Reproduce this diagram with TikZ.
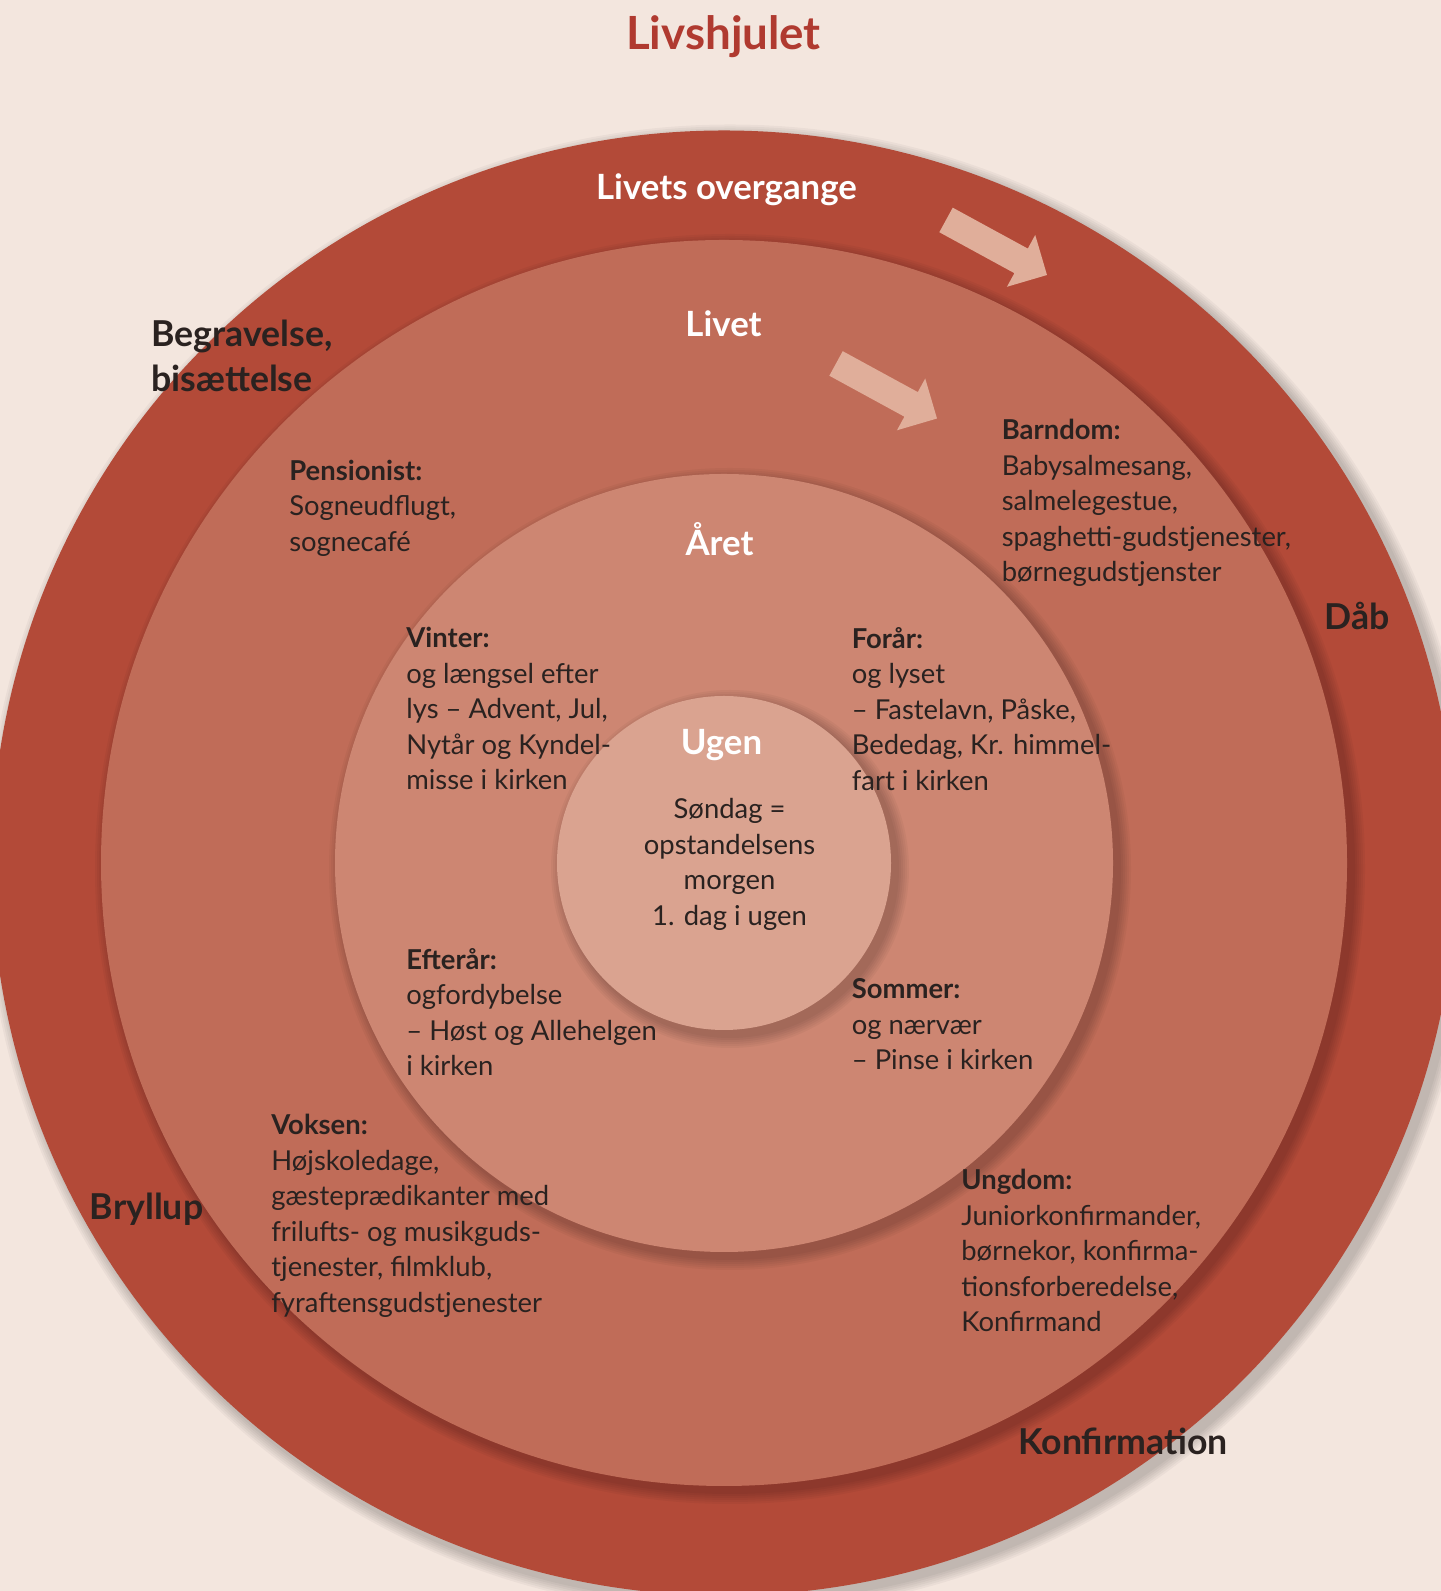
\documentclass[tikz,border=0pt]{standalone}
\usepackage{fontspec}
\setmainfont{Lato}

\definecolor{paper}{HTML}{F3E6DE}
\definecolor{outerred}{HTML}{B34A38}
\definecolor{liferose}{HTML}{C06C58}
\definecolor{yearrose}{HTML}{CD8672}
\definecolor{weekrose}{HTML}{DAA390}
\definecolor{titlered}{HTML}{B03A30}
\definecolor{arrowpink}{HTML}{E0AE9A}
\definecolor{ink}{HTML}{2A2220}

\tikzset{
  body/.style={font=\fontsize{15.6}{20.2}\selectfont, text=ink, align=left, anchor=north west, inner sep=0pt},
  event/.style={font=\fontsize{20.3}{25.4}\selectfont\bfseries, text=ink, align=left, inner sep=0pt},
  ringtitle/.style={font=\fontsize{19.8}{22}\selectfont\bfseries, text=white, inner sep=0pt},
  turnarrow/.style={fill=arrowpink}
}

\begin{document}
\begin{tikzpicture}
\fill[paper] (0,0) rectangle (28.82,31.82);
\useasboundingbox (0,0) rectangle (28.82,31.82);
\clip (0,0) rectangle (28.82,31.82);

\coordinate (hub) at (14.48,14.56);

% rings with soft shadow
\foreach \r/\c in {14.65/outerred, 12.46/liferose, 7.78/yearrose, 3.34/weekrose} {
  \foreach \k in {1,...,6}
    \fill[black, opacity=0.035] ([shift={(0.12,-0.12)}]hub) circle ({\r+0.04*\k});
  \fill[\c] (hub) circle (\r);
}

% arrows
\foreach \p in {(19.93,26.87),(17.73,24.00)}
  \fill[turnarrow, shift={\p}, rotate=-28.6] (-1.15,-0.28) -- (0.56,-0.28) -- (0.56,-0.59) -- (1.15,0) -- (0.56,0.59) -- (0.56,0.28) -- (-1.15,0.28) -- cycle;

\node (title) at (14.47,31.09) [font=\fontsize{26}{0}\selectfont\bfseries, text=titlered] {Livshjulet};

\node[ringtitle] (overgange) at (14.53,28.02) {Livets overgange};
\node[ringtitle] (livet) at (14.47,25.35) {Livet};
\node[ringtitle] (aaret) at (14.39,21.04) {Året};
\node[ringtitle] (ugen) at (14.43,16.92) {Ugen};

\node[body, anchor=center, align=center] (sondag) at (14.59,14.53) {Søndag =\\opstandelsens\\morgen\\1. dag i ugen};

\node[event, anchor=north west] (begravelse) at (3.02,25.42) {Begravelse,\\bisættelse};
\node[event, anchor=west] (daab) at (26.49,19.50) {Dåb};
\node[event, anchor=west] (bryllup) at (1.79,7.63) {Bryllup};
\node[event, anchor=west] (konfirmation) at (20.36,3.00) {Konfirmation};

\node[body] (pensionist) at (5.78,22.63) {\textbf{Pensionist:}\\Sogneudflugt,\\sognecafé};
\node[body] (barndom) at (20.03,23.44) {\textbf{Barndom:}\\Babysalmesang,\\salmelegestue,\\spaghetti-gudstjenester,\\børnegudstjenster};
\node[body] (vinter) at (8.12,19.28) {\textbf{Vinter:}\\og længsel efter\\lys – Advent, Jul,\\Nytår og Kyndel-\\misse i kirken};
\node[body] (foraar) at (17.03,19.28) {\textbf{Forår:}\\og lyset\\– Fastelavn, Påske,\\Bededag, Kr. himmel-\\fart i kirken};
\node[body] (efteraar) at (8.12,12.86) {\textbf{Efterår:}\\ogfordybelse\\– Høst og Allehelgen\\i kirken};
\node[body] (sommer) at (17.03,12.25) {\textbf{Sommer:}\\og nærvær\\– Pinse i kirken};
\node[body] (voksen) at (5.42,9.54) {\textbf{Voksen:}\\Højskoledage,\\gæsteprædikanter med\\frilufts- og musikguds-\\tjenester, filmklub,\\fyraftensgudstjenester};
\node[body] (ungdom) at (19.22,8.44) {\textbf{Ungdom:}\\Juniorkonfirmander,\\børnekor, konfirma-\\tionsforberedelse,\\Konfirmand};
\end{tikzpicture}
\end{document}
